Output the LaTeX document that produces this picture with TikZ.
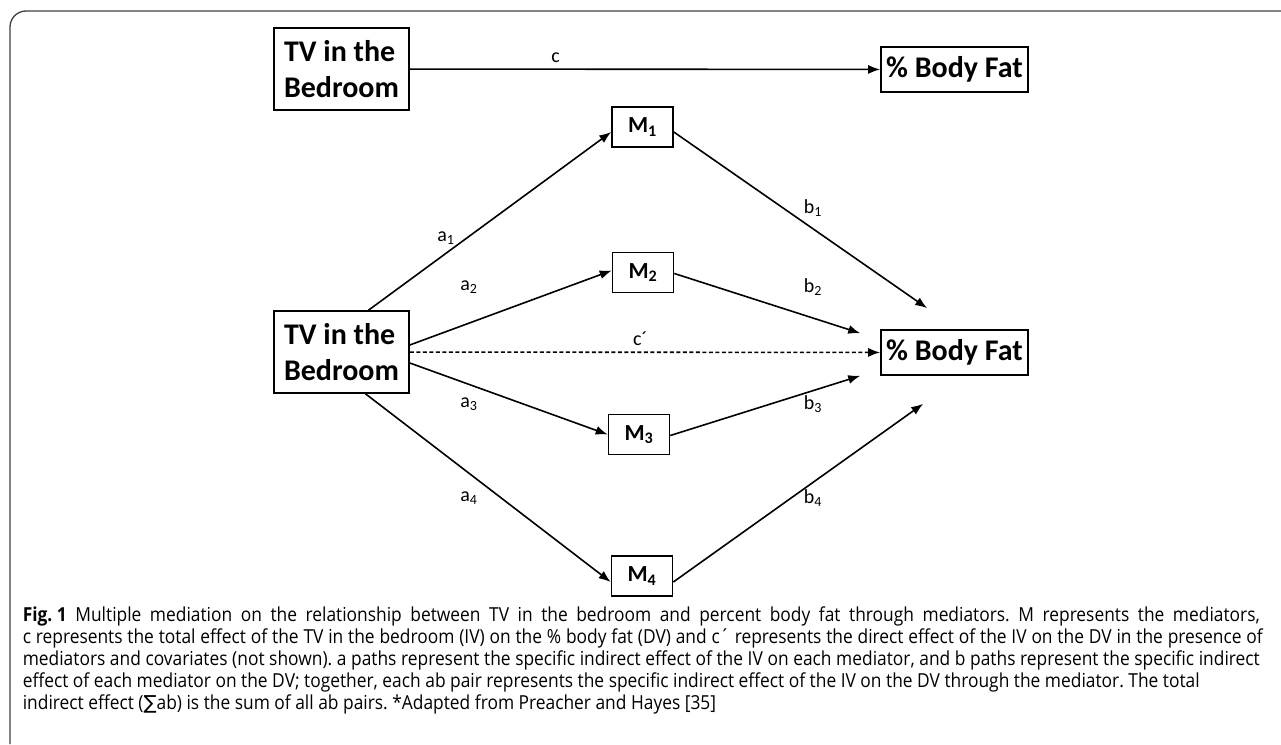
\documentclass[tikz,border=0pt]{standalone}
\usepackage{fontspec}
\setmainfont{Carlito}
\newfontfamily\capfont[FakeStretch=0.9]{Open Sans}
\newfontfamily\symfont{DejaVu Sans}
\usetikzlibrary{arrows.meta,positioning}

\begin{document}
\frenchspacing
\begin{tikzpicture}[x=1pt, y=-1pt, line width=1.6pt,
	>={Latex[length=12pt,width=9pt]},
	varbox/.style={draw, inner sep=0pt, align=left,
		font=\fontsize{30}{36}\selectfont\bfseries},
	medbox/.style={draw, inner sep=0pt, minimum width=61pt, minimum height=40pt,
		font=\fontsize{23}{24}\selectfont\bfseries},
	lbl/.style={font=\fontsize{20}{22}\selectfont},
	capline/.style={anchor=base west, inner sep=0pt,
		font=\capfont\fontsize{19.3}{22}\selectfont}]
	
	\useasboundingbox (0,0) rectangle (1281,744);
	\draw[line width=1.3pt, black!75, rounded corners=16pt] (10,744) -- (10,11) -- (1281,11);
	
	% total effect
	\node[varbox, minimum width=135pt, minimum height=82pt] (tvtop) at (341.5,69) {TV in the\\Bedroom};
	\node[varbox, minimum width=147pt, minimum height=45pt] (fattop) at (954.5,69.5) {\% Body Fat};
	\draw[->] (tvtop) -- (fattop) node[lbl, pos=0.31, above=2pt] {c};
	
	% mediation model
	\node[varbox, minimum width=135pt, minimum height=82pt] (tv) at (341.5,352) {TV in the\\Bedroom};
	\node[varbox, minimum width=147pt, minimum height=45pt] (fat) at (954.5,352.5) {\% Body Fat};
	
	\node[medbox] (m1) at (642.5,127) {M\textsubscript{1}};
	\node[medbox] (m2) at (643,272.5) {M\textsubscript{2}};
	\node[medbox] (m3) at (639,434.5) {M\textsubscript{3}};
	\node[medbox] (m4) at (642,576) {M\textsubscript{4}};
	
	\coordinate (b1tip) at ([xshift=47pt,yshift=21pt]fat.north west);
	\coordinate (b2tip) at ([xshift=-20pt,yshift=-4pt]fat.north west);
	\coordinate (b3tip) at ([xshift=-20pt]fat.south west);
	\coordinate (b4tip) at ([xshift=43pt,yshift=-28pt]fat.south west);
	
	\draw[->, dash pattern=on 4pt off 2.5pt] (tv) -- (fat) node[lbl, pos=0.49, above=2pt] {c´};
	
	\draw[->] ([xshift=27pt]tv.north) -- ([yshift=-5pt]m1.west);
	\draw[->] ([yshift=7pt]tv.east) -- ([yshift=2pt]m2.west);
	\draw[->] ([yshift=-11pt]tv.east) -- (m3.west);
	\draw[->] ([xshift=24pt]tv.south) -- ([yshift=-6pt]m4.west);
	
	\draw[->] ([yshift=-5pt]m1.east) -- (b1tip);
	\draw[->] ([yshift=-1pt]m2.east) -- (b2tip);
	\draw[->] ([yshift=-1pt]m3.east) -- (b3tip);
	\draw[->] ([yshift=-6pt]m4.east) -- (b4tip);
	
	\node[lbl] (la1) at (446,238) {a\textsubscript{1}};
	\node[lbl] (la2) at (469,287) {a\textsubscript{2}};
	\node[lbl] (la3) at (469,404) {a\textsubscript{3}};
	\node[lbl] (la4) at (469,498) {a\textsubscript{4}};
	\node[lbl] (lb1) at (813,208) {b\textsubscript{1}};
	\node[lbl] (lb2) at (813,287) {b\textsubscript{2}};
	\node[lbl] (lb3) at (813,404) {b\textsubscript{3}};
	\node[lbl] (lb4) at (813,498) {b\textsubscript{4}};
	
	% caption
	\node[capline] (cap1) at (22,621) {\makebox[1237pt][s]{\mbox{\textbf{Fig. 1}} Multiple mediation on the relationship between TV in the bedroom and percent body fat through mediators. M represents the mediators,}};
	\node[capline] (cap2) at (22,643) {\makebox[1240pt][s]{c represents the total effect of the TV in the bedroom (IV) on the \% body fat (DV) and c´ represents the direct effect of the IV on the DV in the presence of}};
	\node[capline] (cap3) at (22,665) {\makebox[1237pt][s]{mediators and covariates (not shown). a paths represent the specific indirect effect of the IV on each mediator, and b paths represent the specific indirect}};
	\node[capline] (cap4) at (22,687) {effect of each mediator on the DV; together, each ab pair represents the specific indirect effect of the IV on the DV through the mediator. The total};
	\node[capline] (cap5) at (22,709) {indirect effect ({\symfont ∑}ab) is the sum of all ab pairs. *Adapted from Preacher and Hayes [35]};
	
\end{tikzpicture}
\end{document}
